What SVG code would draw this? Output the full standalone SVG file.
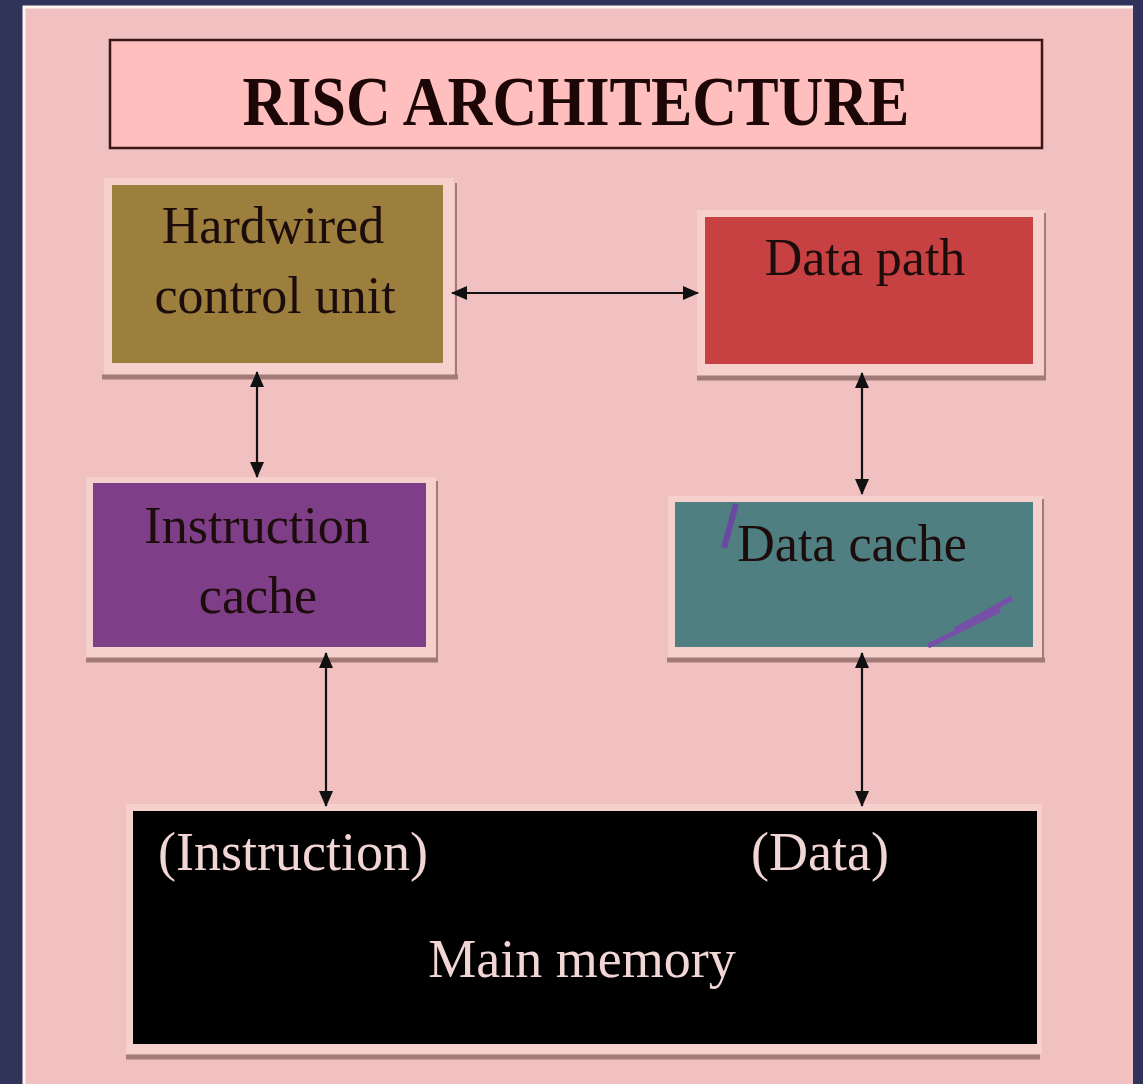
<svg xmlns="http://www.w3.org/2000/svg" width="1143" height="1084" viewBox="0 0 1143 1084">
<style>
.lbl{font-family:"Liberation Serif","Times New Roman",serif;font-size:52px;fill:#1c0c0c;text-anchor:middle}
.mm{font-family:"Liberation Serif","Times New Roman",serif;font-size:54px;fill:#f2d6d6;text-anchor:middle}
.frame{fill:#f6d0cc}
.shadow{stroke:#a27b78;fill:none}
.conn{stroke:#111;stroke-width:2.2;fill:none;marker-start:url(#ah);marker-end:url(#ah)}
</style>
<defs>
<marker id="ah" viewBox="0 0 16 14" refX="15" refY="7" markerWidth="16" markerHeight="14" markerUnits="userSpaceOnUse" orient="auto-start-reverse">
<path d="M0,0 L16,7 L0,14 Z" fill="#111"/>
</marker>
</defs>
<rect width="1143" height="1084" fill="#30345a"/>
<rect x="23" y="6" width="1110" height="1078" fill="#f1c0c0"/>
<path d="M24,1084 V7 H1133" stroke="#fff4f2" stroke-width="3" fill="none"/>

<g id="title">
<rect x="110" y="40" width="932" height="108" fill="#ffbfbf" stroke="#3a1616" stroke-width="2.5"/>
<text x="576" y="125" font-family="'Liberation Serif','Times New Roman',serif" font-weight="bold" font-size="70" fill="#1c0606" text-anchor="middle" textLength="667" lengthAdjust="spacingAndGlyphs">RISC ARCHITECTURE</text>
</g>

<g id="hcu">
<rect class="frame" x="104" y="178" width="350" height="197"/>
<path class="shadow" d="M102,377 H458" stroke-width="5"/>
<path class="shadow" d="M456,183 V378" stroke-width="2"/>
<rect x="112" y="185" width="331" height="178" fill="#9c7f3d"/>
<text class="lbl" x="273" y="243">Hardwired</text>
<text class="lbl" x="275" y="313">control unit</text>
</g>

<g id="datapath">
<rect class="frame" x="697" y="210" width="348" height="166"/>
<path class="shadow" d="M697,378 H1046" stroke-width="5"/>
<path class="shadow" d="M1045,213 V379" stroke-width="2"/>
<rect x="705" y="217" width="328" height="147" fill="#c74142"/>
<text class="lbl" x="865" y="275">Data path</text>
</g>

<g id="icache">
<rect class="frame" x="86" y="477" width="350" height="181"/>
<path class="shadow" d="M86,660 H438" stroke-width="5"/>
<path class="shadow" d="M437,481 V661" stroke-width="2"/>
<rect x="93" y="483" width="333" height="164" fill="#7e3f88"/>
<text class="lbl" x="257" y="543">Instruction</text>
<text class="lbl" x="258" y="613">cache</text>
</g>

<g id="dcache">
<rect class="frame" x="668" y="496" width="375" height="162"/>
<path class="shadow" d="M667,660 H1045" stroke-width="5"/>
<path class="shadow" d="M1043,499 V661" stroke-width="2"/>
<rect x="675" y="502" width="358" height="145" fill="#4f7f80"/>
<path d="M736,504 L724,548" stroke="#6a4aa0" stroke-width="6" fill="none"/>
<path d="M1012,598 L955,630 M1000,610 L928,646" stroke="#7650a8" stroke-width="5" fill="none"/>
<text class="lbl" x="852" y="561">Data cache</text>
</g>

<g id="mainmem">
<rect class="frame" x="126" y="804" width="916" height="250"/>
<path class="shadow" d="M126,1057 H1040" stroke-width="5"/>
<rect x="133" y="811" width="904" height="233" fill="#000"/>
<text class="mm" x="293" y="870">(Instruction)</text>
<text class="mm" x="820" y="870">(Data)</text>
<text class="mm" x="582" y="977">Main memory</text>
</g>

<g id="connectors">
<path class="conn" d="M452,293 H698"/>
<path class="conn" d="M257,372 V477"/>
<path class="conn" d="M862,373 V494"/>
<path class="conn" d="M326,653 V806"/>
<path class="conn" d="M862,653 V806"/>
</g>
</svg>
